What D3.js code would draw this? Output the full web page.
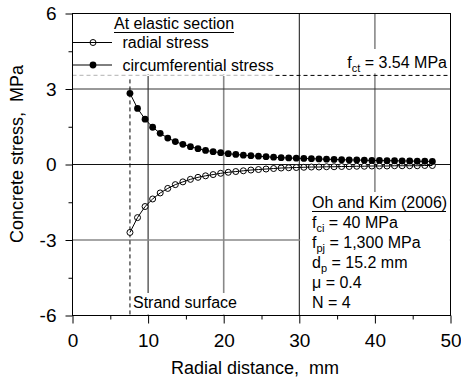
<!DOCTYPE html>
<html><head><meta charset="utf-8">
<script src="https://cdn.jsdelivr.net/npm/d3@7"></script>
<style>
html,body{margin:0;padding:0;background:#fff;}
svg{display:block;font-family:"Liberation Sans",Arial,sans-serif;}
</style></head>
<body><svg id="c" width="461" height="378"></svg>
<script>
const radialDistance = [7.6,8.6,9.6,10.6,11.6,12.6,13.6,14.6,15.6,16.6,17.6,18.6,19.6,20.6,21.6,22.6,23.6,24.6,25.6,26.6,27.6,28.6,29.6,30.6,31.6,32.6,33.6,34.6,35.6,36.6,37.6,38.6,39.6,40.6,41.6,42.6,43.6,44.6,45.6,46.6,47.6];
const radialStress = [-2.70,-2.11,-1.67,-1.37,-1.13,-0.95,-0.80,-0.69,-0.59,-0.51,-0.45,-0.40,-0.35,-0.31,-0.28,-0.25,-0.22,-0.20,-0.18,-0.16,-0.14,-0.13,-0.12,-0.11,-0.10,-0.10,-0.09,-0.09,-0.08,-0.08,-0.07,-0.07,-0.06,-0.06,-0.06,-0.05,-0.05,-0.05,-0.05,-0.04,-0.04];
const circStress = [2.83,2.23,1.80,1.48,1.24,1.05,0.91,0.80,0.71,0.63,0.56,0.51,0.47,0.43,0.40,0.37,0.35,0.33,0.31,0.29,0.27,0.26,0.25,0.24,0.23,0.22,0.21,0.20,0.19,0.18,0.18,0.17,0.16,0.16,0.15,0.15,0.14,0.14,0.13,0.13,0.12];
const xTicks = [0,10,20,30,40,50];
const yTicks = [-6,-3,0,3,6];
const xMinor = [5,15,25,35,45];
const yMinor = [-4.5,-1.5,1.5,4.5];
const fct = 3.54;
const strandSurface = 7.6;
const legendTitle = "At elastic section";
const seriesNames = ["radial stress","circumferential stress"];
const sourceTitle = "Oh and Kim (2006)";

const svg = d3.select("#c");
const L=72.5, R=450.5, T=13.5, B=315.5;
const x = d3.scaleLinear().domain([0,50]).range([L,R]);
const y = d3.scaleLinear().domain([-6,6]).range([B,T]);

// grid
const gridStyle = v => (v===20||v===40) ? {c:"#888",w:1.6} : {c:"#111",w:1};
[10,20,30,40].forEach(v=>{
  const s=gridStyle(v);
  svg.append("line").attr("x1",x(v)).attr("x2",x(v)).attr("y1",T).attr("y2",B)
    .attr("stroke",s.c).attr("stroke-width",s.w);
});
[[-3,"#888",1.6],[0,"#111",1],[3,"#333",1]].forEach(([v,c,w])=>{
  svg.append("line").attr("x1",L).attr("x2",R).attr("y1",y(v)).attr("y2",y(v))
    .attr("stroke",c).attr("stroke-width",w);
});

// fct dashed line
svg.append("line").attr("x1",L).attr("x2",R).attr("y1",y(fct)).attr("y2",y(fct))
  .attr("stroke","#000").attr("stroke-width",1).attr("stroke-dasharray","4,3");

// legend box (white background)
svg.append("rect").attr("x",L+0.5).attr("y",T+0.5).attr("width",x(26.6)-L).attr("height",y(fct)-T-1.5).attr("fill","#fff");
svg.append("line").attr("x1",L).attr("x2",x(26.6)).attr("y1",y(fct)).attr("y2",y(fct))
  .attr("stroke","#fff").attr("stroke-width",1.2);
svg.append("line").attr("x1",L).attr("x2",x(26.6)).attr("y1",y(fct)).attr("y2",y(fct))
  .attr("stroke","#bbb").attr("stroke-width",1).attr("stroke-dasharray","4,3");

// fct label with bg
const fctBgX = 346;
svg.append("rect").attr("x",fctBgX).attr("y",49).attr("width",R-fctBgX-1.5).attr("height",y(fct)-51).attr("fill","#fff");
const fctT = svg.append("text").attr("x",R-3.5).attr("y",y(fct)-7.5).attr("text-anchor","end").attr("font-size",16).attr("fill","#000");
fctT.append("tspan").text("f");
fctT.append("tspan").attr("font-size",11).attr("dy",4).text("ct");
fctT.append("tspan").attr("dy",-4).text(" = 3.54 MPa");

// strand surface dashed vertical
svg.append("line").attr("x1",x(strandSurface)).attr("x2",x(strandSurface)).attr("y1",y(fct)+4).attr("y2",B)
  .attr("stroke","#000").attr("stroke-width",1).attr("stroke-dasharray","4,3");
svg.append("rect").attr("x",x(strandSurface)+2).attr("y",293).attr("width",96).attr("height",B-293-1).attr("fill","#fff");
svg.append("text").attr("x",x(strandSurface)+3).attr("y",308).attr("font-size",16).text("Strand surface");

// source box
const boxTop = 192;
svg.append("rect").attr("x",x(30)+0.8).attr("y",boxTop).attr("width",R-x(30)-1.5).attr("height",B-boxTop-0.8).attr("fill","#fff");
const tx = 312;
svg.append("text").attr("x",tx).attr("y",208).attr("font-size",16).text(sourceTitle);
svg.append("line").attr("x1",tx).attr("x2",tx+134).attr("y1",211.5).attr("y2",211.5).attr("stroke","#000").attr("stroke-width",1);
function subText(yy, main, sub, rest){
  const t = svg.append("text").attr("x",tx).attr("y",yy).attr("font-size",16);
  t.append("tspan").text(main);
  if(sub){ t.append("tspan").attr("font-size",11).attr("dy",4).text(sub);
    t.append("tspan").attr("dy",-4).text(rest);} else t.append("tspan").text(rest);
}
subText(228,"f","ci"," = 40 MPa");
subText(248,"f","pj"," = 1,300 MPa");
subText(268,"d","p"," = 15.2 mm");
subText(288,"\u03bc",null," = 0.4");
subText(308,"N",null," = 4");

// frame
svg.append("rect").attr("x",L).attr("y",T).attr("width",R-L).attr("height",B-T).attr("fill","none").attr("stroke","#000").attr("stroke-width",1);

// axes
const fmt = d => String(d);
const xAxis = d3.axisBottom(x).tickValues(xTicks).tickSize(8).tickPadding(10).tickFormat(fmt);
const gx = svg.append("g").attr("transform",`translate(0,${B})`).call(xAxis);
gx.select(".domain").remove();
gx.selectAll("text").attr("font-size",19).attr("font-family","Liberation Sans, Arial, sans-serif").attr("fill","#000");
gx.selectAll("line").attr("stroke","#000");
const xAxisMinor = d3.axisBottom(x).tickValues(xMinor).tickSize(4).tickFormat("");
const gxm = svg.append("g").attr("transform",`translate(0,${B})`).call(xAxisMinor);
gxm.select(".domain").remove();

const yAxis = d3.axisLeft(y).tickValues(yTicks).tickSize(7).tickPadding(9).tickFormat(fmt);
const gy = svg.append("g").attr("transform",`translate(${L},0)`).call(yAxis);
gy.select(".domain").remove();
gy.selectAll("text").attr("font-size",19).attr("font-family","Liberation Sans, Arial, sans-serif").attr("fill","#000");
gy.selectAll("line").attr("stroke","#000");
const yAxisMinor = d3.axisLeft(y).tickValues(yMinor).tickSize(4).tickFormat("");
const gym = svg.append("g").attr("transform",`translate(${L},0)`).call(yAxisMinor);
gym.select(".domain").remove();

// axis titles
svg.append("text").attr("x",255).attr("y",374).attr("text-anchor","middle").attr("font-size",18).text("Radial distance,\u00a0 mm");
svg.append("text").attr("transform",`translate(23,154) rotate(-90)`).attr("text-anchor","middle").attr("font-size",18).text("Concrete stress,\u00a0 MPa");

// data
const line = d3.line().x(d=>x(d[0])).y(d=>y(d[1]));
const rData = radialDistance.map((r,i)=>[r,radialStress[i]]);
const cData = radialDistance.map((r,i)=>[r,circStress[i]]);
svg.append("path").attr("d",line(cData)).attr("fill","none").attr("stroke","#000").attr("stroke-width",1);
svg.selectAll(".rp").data(rData).enter().append("circle").attr("cx",d=>x(d[0])).attr("cy",d=>y(d[1])).attr("r",3)
  .attr("fill","#fff").attr("stroke","#000").attr("stroke-width",1);
svg.append("path").attr("d",line(rData)).attr("fill","none").attr("stroke","#000").attr("stroke-width",1);
svg.selectAll(".cp").data(cData).enter().append("circle").attr("cx",d=>x(d[0])).attr("cy",d=>y(d[1])).attr("r",3.4)
  .attr("fill","#000");

// legend
svg.append("text").attr("x",114).attr("y",29).attr("font-size",16).text(legendTitle);
svg.append("line").attr("x1",114).attr("x2",234).attr("y1",32.5).attr("y2",32.5).attr("stroke","#000").attr("stroke-width",1);
const legY = [42.5,65];
legY.forEach((ly,i)=>{
  if(i===0) svg.append("circle").attr("cx",93).attr("cy",ly).attr("r",3).attr("fill","#fff").attr("stroke","#000");
  else svg.append("circle").attr("cx",93).attr("cy",ly).attr("r",3.4).attr("fill","#000");
  svg.append("line").attr("x1",L).attr("x2",112).attr("y1",ly).attr("y2",ly).attr("stroke","#000").attr("stroke-width",1);
  svg.append("text").attr("x",122.5).attr("y",ly+5.5).attr("font-size",16).text(seriesNames[i]);
});
</script></body></html>
